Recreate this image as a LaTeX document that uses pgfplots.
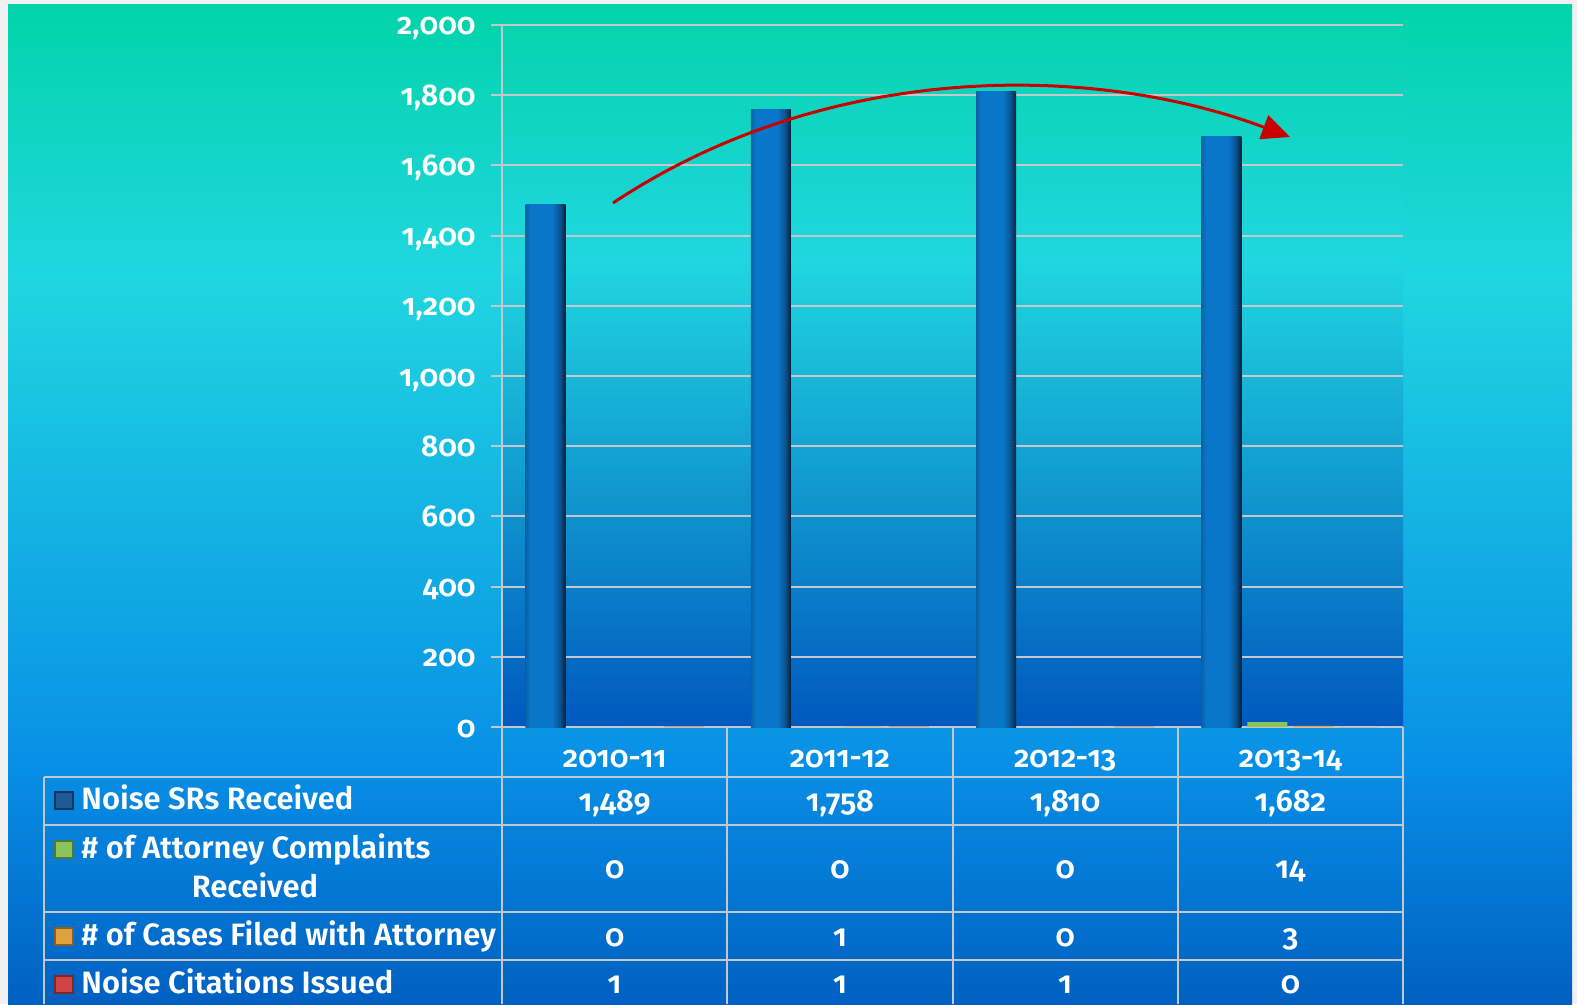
\documentclass[border=0pt]{standalone}
\usepackage{fontspec}
\setmainfont{Fira Sans}[Numbers=OldStyle, BoldFont={Fira Sans SemiBold}]
\usepackage{pgfplots}
\pgfplotsset{compat=1.18}
\usetikzlibrary{arrows.meta}

\definecolor{bgTop}{HTML}{02D4AA}
\definecolor{bgCyan}{HTML}{20D6E0}
\definecolor{bgMid}{HTML}{0890E6}
\definecolor{bgBot}{HTML}{0060C2}
\definecolor{paTop}{HTML}{06D4AE}
\definecolor{paMid}{HTML}{0AA0E4}
\definecolor{paBot}{HTML}{0058BE}
\definecolor{gridgray}{HTML}{C4C8CC}
\definecolor{barL}{HTML}{0A62A6}
\definecolor{barM}{HTML}{0A76CA}
\definecolor{barR}{HTML}{081E36}
\definecolor{serBlue}{HTML}{1F5A96}
\definecolor{serGreen}{HTML}{8CC45C}
\definecolor{serOrange}{HTML}{E0A040}
\definecolor{serRed}{HTML}{D04444}
\definecolor{arrowred}{HTML}{C80000}

% horizontal shading for the blue bars (path spans 25bp..75bp)
\pgfdeclarehorizontalshading{barshade}{100bp}{
  color(0bp)=(barL); color(25bp)=(barL); color(31bp)=(barM);
  color(58bp)=(barM); color(68bp)=(barM!60!barR); color(75bp)=(barR);
  color(100bp)=(barR)}

\newcommand{\tfont}{\fontsize{15.45}{18}\selectfont\bfseries}

\begin{document}
\begin{tikzpicture}
% background, 1 unit = 1 pixel of the reference
\begin{scope}[x=0.5pt,y=-0.5pt]
  \useasboundingbox (0,0) rectangle (1577,1004);
  \fill[gray!12] (0,0) rectangle (1577,1004);
  \shade[top color=bgTop, bottom color=bgCyan] (8,5) rectangle (1572,276);
  \shade[top color=bgCyan, bottom color=bgMid] (8,275) rectangle (1572,760);
  \shade[top color=bgMid, bottom color=bgBot] (8,759) rectangle (1572,1004);
  % plot area
  \shade[top color=paTop, bottom color=bgCyan] (502,25) rectangle (1403,261);
  \shade[top color=bgCyan, middle color=paMid, bottom color=paBot] (502,260) rectangle (1403,727);
\end{scope}

\begin{axis}[
    at={(251pt,-363.5pt)}, anchor=south west,
    scale only axis, width=450.5pt, height=351pt,
    ymin=0, ymax=2000, ytick={0,200,...,2000},
    xmin=-0.5, xmax=3.5, xtick={0,1,2,3},
    xticklabels={2010-11,2011-12,2012-13,2013-14},
    yticklabel={\pgfmathprintnumber{\tick}},
    bar width=20pt,
    axis x line*=bottom, axis y line*=left,
    axis line style={draw=gridgray, line width=1pt, -},
    ymajorgrids, grid style={draw=gridgray, line width=1pt},
    tick align=outside, major tick length=5.5pt,
    ytick style={draw=gridgray, line width=1pt},
    xtick style={draw=none},
    ticklabel style={font=\fontsize{15}{18}\selectfont\bfseries, text=white},
    /pgf/number format/assume math mode=true,
    yticklabel style={anchor=base east, inner sep=0pt, xshift=-7.5pt, yshift=-5pt},
    xticklabel style={anchor=base, inner sep=0pt, yshift=-14.5pt},
    clip=false,
  ]
  % Noise SRs Received, one path per bar so each bar gets its own shading
  \addplot[ybar, bar shift=-34.5pt, draw=none, shade, shading=barshade] coordinates {(0,1489)};
  \addplot[ybar, bar shift=-34.5pt, draw=none, shade, shading=barshade] coordinates {(1,1758)};
  \addplot[ybar, bar shift=-34.5pt, draw=none, shade, shading=barshade] coordinates {(2,1810)};
  \addplot[ybar, bar shift=-34.5pt, draw=none, shade, shading=barshade] coordinates {(3,1682)};
  % # of Attorney Complaints Received
  \addplot[ybar, bar shift=-11.5pt, draw=none, fill=serGreen]
    coordinates {(0,0) (1,0) (2,0) (3,14)};
  % # of Cases Filed with Attorney
  \addplot[ybar, bar shift=11.5pt, draw=none, fill=serOrange]
    coordinates {(0,0) (1,1) (2,0) (3,3)};
  % Noise Citations Issued
  \addplot[ybar, bar shift=34.5pt, draw=none, fill=serRed]
    coordinates {(0,1) (1,1) (2,1) (3,0)};
\end{axis}

\begin{scope}[x=0.5pt,y=-0.5pt]
  % trend arrow
  \draw[arrowred, line width=1.5pt, -{Triangle[length=14pt,width=12.5pt]}]
    (613,203) .. controls (825,62) and (1090,62) .. (1290,137);

  % data table grid
  \begin{scope}[draw=gridgray, line width=1pt]
    \draw (502,727) -- (502,1004);
    \foreach \x in {727.25,952.5,1177.75,1403} \draw (\x,727) -- (\x,1004);
    \draw (44,777) -- (44,1004);
    \foreach \y in {777,825,912,960} \draw (44,\y) -- (1403,\y);
  \end{scope}

  % row labels with legend keys
  \begin{scope}[every node/.style={text=white, font=\tfont, inner sep=0pt}]
    \filldraw[fill=serBlue, draw=serBlue!60!black, line width=0.6pt] (55,792) rectangle (73,809);
    \filldraw[fill=serGreen, draw=serGreen!60!black, line width=0.6pt] (55,841) rectangle (73,858);
    \filldraw[fill=serOrange, draw=serOrange!60!black, line width=0.6pt] (55,928) rectangle (73,945);
    \filldraw[fill=serRed, draw=serRed!60!black, line width=0.6pt] (55,976) rectangle (73,993);

    \node[anchor=base west] at (81,809) {Noise SRs Received};
    \node[anchor=base west] at (81,858) {\# of Attorney Complaints};
    \node[anchor=base] at (255,897) {Received};
    \node[anchor=base west] at (81,945) {\# of Cases Filed with Attorney};
    \node[anchor=base west] at (81,993) {Noise Citations Issued};

    % values
    \node[anchor=base] at (614.6,811) {1,489};
    \node[anchor=base] at (839.9,811) {1,758};
    \node[anchor=base] at (1065.1,811) {1,810};
    \node[anchor=base] at (1290.4,811) {1,682};

    \node[anchor=base] at (614.6,878) {0};
    \node[anchor=base] at (839.9,878) {0};
    \node[anchor=base] at (1065.1,878) {0};
    \node[anchor=base] at (1290.4,878) {14};

    \node[anchor=base] at (614.6,946) {0};
    \node[anchor=base] at (839.9,946) {1};
    \node[anchor=base] at (1065.1,946) {0};
    \node[anchor=base] at (1290.4,946) {3};

    \node[anchor=base] at (614.6,993) {1};
    \node[anchor=base] at (839.9,993) {1};
    \node[anchor=base] at (1065.1,993) {1};
    \node[anchor=base] at (1290.4,993) {0};
  \end{scope}
\end{scope}
\end{tikzpicture}
\end{document}
